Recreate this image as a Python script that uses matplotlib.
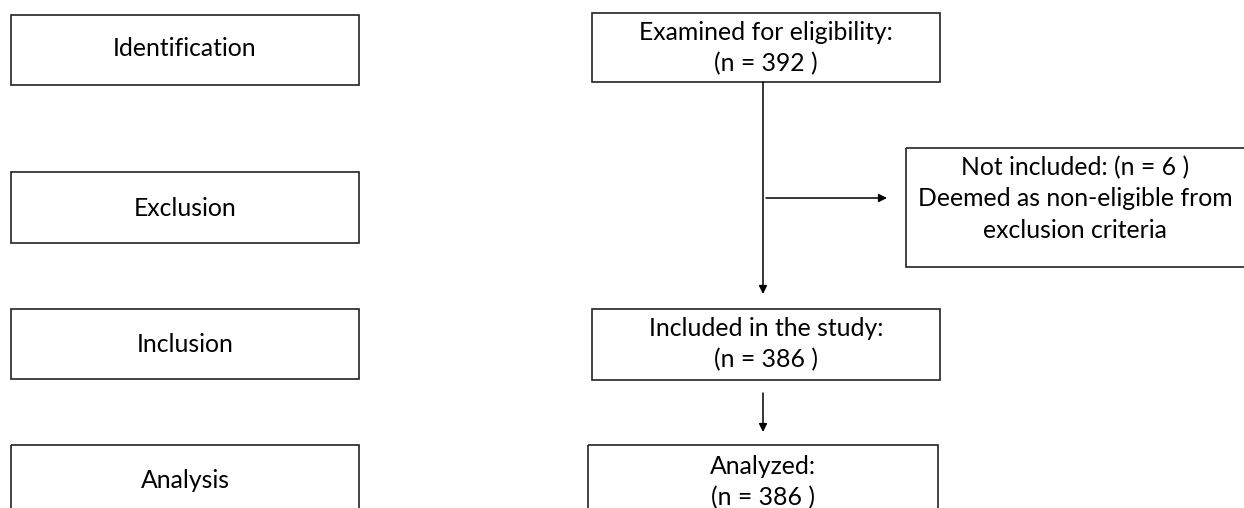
import matplotlib.pyplot as plt
from matplotlib.patches import Rectangle

plt.rcParams['font.family'] = ['Lato', 'DejaVu Sans']

stages = ['Identification', 'Exclusion', 'Inclusion', 'Analysis']
flow_labels = ['Examined for eligibility:', 'Not included:', 'Included in the study:', 'Analyzed:']
flow_n = [392, 6, 386, 386]
excl_note = ['Deemed as non-eligible from', 'exclusion criteria']

fig = plt.figure(figsize=(12.44, 5.08), dpi=100)
ax = fig.add_axes([0, 0, 1, 1])
ax.set_xlim(0, 1244)
ax.set_ylim(508, 0)
ax.axis('off')

fs = 17.8
lw = 1.2


def box(x0, y0, x1, y1):
    ax.add_patch(Rectangle((x0, y0), x1 - x0, y1 - y0, fill=False, edgecolor='#222222', lw=lw))


def arrow(x0, y0, x1, y1):
    ax.annotate('', xy=(x1, y1), xytext=(x0, y0),
                arrowprops=dict(arrowstyle='-|>', color='black', lw=1.1,
                                mutation_scale=12, shrinkA=0, shrinkB=0))


# left column of stage boxes
stage_y = [(15, 85), (172, 243), (309, 379), (445, 520)]
text_y = [49, 208, 344, 480]
for name, (y0, y1), ty in zip(stages, stage_y, text_y):
    box(11, y0, 359, y1)
    ax.text(185, ty, name, ha='center', va='center', fontsize=fs)

# main flow boxes
box(592, 13, 940, 82)
ax.text(766, 32, flow_labels[0], ha='center', va='center', fontsize=fs)
ax.text(766, 64, f'(n = {flow_n[0]} )', ha='center', va='center', fontsize=fs)

box(906, 148, 1260, 267)
ax.text(1075, 168, f'{flow_labels[1]} (n = {flow_n[1]} )', ha='center', va='center', fontsize=fs)
ax.text(1075, 199, excl_note[0], ha='center', va='center', fontsize=fs)
ax.text(1075, 230, excl_note[1], ha='center', va='center', fontsize=fs)

box(592, 309, 940, 380)
ax.text(766, 328, flow_labels[2], ha='center', va='center', fontsize=fs)
ax.text(766, 360, f'(n = {flow_n[2]} )', ha='center', va='center', fontsize=fs)

box(588, 445, 938, 520)
ax.text(763, 467, flow_labels[3], ha='center', va='center', fontsize=fs)
ax.text(763, 498, f'(n = {flow_n[3]} )', ha='center', va='center', fontsize=fs)

# arrows
arrow(763, 82, 763, 294)
arrow(766, 198, 887, 198)
arrow(763, 393, 763, 432)

fig.savefig('out.png', dpi=100, facecolor='white')
